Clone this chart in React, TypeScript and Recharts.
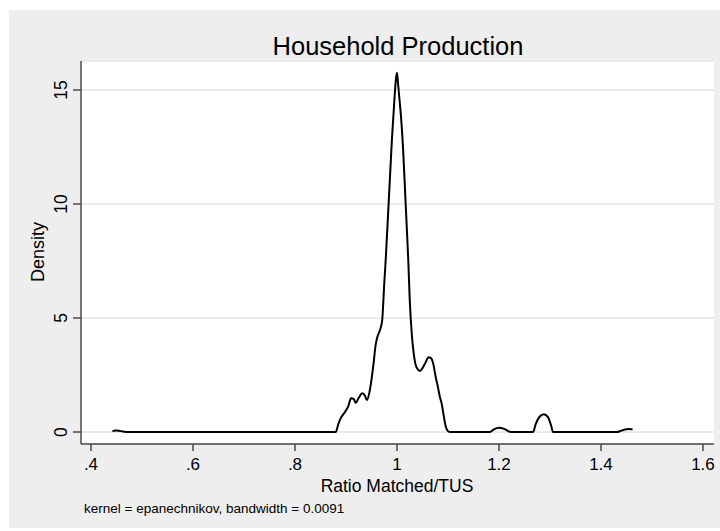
import React from 'react';
import { CartesianGrid, Line, LineChart, XAxis, YAxis } from 'recharts';

// kernel density estimate, ratio on x, density on y
const ratio = [
  0.442, 0.448, 0.455, 0.462, 0.469, 0.6, 0.75, 0.88, 0.885, 0.89, 0.898, 0.904, 0.91, 0.915, 0.919, 0.925,
  0.932, 0.937, 0.941, 0.946, 0.95, 0.954, 0.958, 0.962, 0.967, 0.971, 0.975, 0.978, 0.984, 0.99, 0.995, 0.998,
  1.0, 1.002, 1.004, 1.008, 1.012, 1.017, 1.022, 1.025, 1.029, 1.032, 1.036, 1.04, 1.045, 1.05, 1.056, 1.062,
  1.066, 1.071, 1.076, 1.08, 1.084, 1.088, 1.091, 1.095, 1.099, 1.104, 1.15, 1.182, 1.19, 1.2, 1.21, 1.22,
  1.222, 1.267, 1.272, 1.28, 1.288, 1.296, 1.302, 1.306, 1.431, 1.44, 1.45, 1.456, 1.462,
];
const density = [
  0.04, 0.07, 0.06, 0.02, 0, 0, 0, 0, 0.35, 0.62, 0.88, 1.1, 1.48, 1.45, 1.28, 1.5,
  1.7, 1.6, 1.4, 1.75, 2.3, 3.0, 3.8, 4.2, 4.5, 4.9, 6.5, 7.6, 10.2, 12.8, 14.6, 15.5,
  15.76, 15.3, 14.8, 13.8, 12.4, 10.0, 7.6, 5.8, 4.3, 3.6, 3.0, 2.77, 2.68, 2.8, 3.05, 3.28,
  3.25, 3.0, 2.4, 2.0, 1.55, 1.2, 0.8, 0.3, 0.06, 0, 0, 0, 0.12, 0.19, 0.14, 0.02,
  0, 0, 0.35, 0.68, 0.78, 0.65, 0.3, 0, 0, 0.06, 0.12, 0.13, 0.11,
];

const xTicks = [0.4, 0.6, 0.8, 1, 1.2, 1.4, 1.6];
const xTickLabels = ['.4', '.6', '.8', '1', '1.2', '1.4', '1.6'];
const yTicks = [0, 5, 10, 15];

const data = ratio.map((x, i) => ({ x, y: density[i] }));

const FONT = '"Liberation Sans", Arial, Helvetica, sans-serif';
const AXIS = '#4a4a4a';

const XTick = (props: any) => {
  const { x, payload } = props;
  const idx = xTicks.indexOf(payload.value);
  return (
    <text x={x} y={470} textAnchor="middle" fontFamily={FONT} fontSize={17} fill="#000">
      {idx >= 0 ? xTickLabels[idx] : payload.value}
    </text>
  );
};

const YTick = (props: any) => {
  const { y, payload } = props;
  return (
    <text
      x={67}
      y={y}
      transform={`rotate(-90, 67, ${y})`}
      textAnchor="middle"
      fontFamily={FONT}
      fontSize={17.5}
      fill="#000"
    >
      {payload.value}
    </text>
  );
};

export default function App() {
  return (
    <div style={{ position: 'fixed', left: 0, top: 0, width: 720, height: 531, background: '#fff' }}>
      <div style={{ position: 'absolute', left: 9, top: 10, width: 711, height: 518, background: '#eeeeee' }} />
      <div style={{ position: 'absolute', left: 0, top: 0 }}>
        <LineChart width={720} height={531} data={data} margin={{ top: 61, right: 6, bottom: 0, left: 0 }}>
          <CartesianGrid fill="#fff" vertical={false} stroke="#e4e4e4" strokeWidth={1.5} />
          <XAxis
            dataKey="x"
            type="number"
            domain={[0.3804, 1.6216]}
            ticks={xTicks}
            allowDataOverflow
            height={87}
            tickSize={7}
            axisLine={{ stroke: AXIS, strokeWidth: 1.5 }}
            tickLine={{ stroke: AXIS, strokeWidth: 1.5 }}
            tick={<XTick />}
          />
          <YAxis
            type="number"
            domain={[-0.526, 16.27]}
            ticks={yTicks}
            allowDataOverflow
            width={81}
            tickSize={8}
            axisLine={{ stroke: AXIS, strokeWidth: 1.5 }}
            tickLine={{ stroke: AXIS, strokeWidth: 1.5 }}
            tick={<YTick />}
          />
          <Line
            type="monotone"
            dataKey="y"
            stroke="#000"
            strokeWidth={2}
            dot={false}
            isAnimationActive={false}
          />
        </LineChart>
      </div>
      <svg width={720} height={531} style={{ position: 'absolute', left: 0, top: 0, pointerEvents: 'none' }}>
        <text x={398} y={55} textAnchor="middle" fontFamily={FONT} fontSize={25.5} fill="#000">
          Household Production
        </text>
        <text x={397} y={492} textAnchor="middle" fontFamily={FONT} fontSize={17.5} fill="#000">
          Ratio Matched/TUS
        </text>
        <text
          x={44}
          y={252}
          transform="rotate(-90, 44, 252)"
          textAnchor="middle"
          fontFamily={FONT}
          fontSize={18}
          fill="#000"
        >
          Density
        </text>
        <text x={84} y={513} fontFamily={FONT} fontSize={13.5} fill="#000">
          kernel = epanechnikov, bandwidth = 0.0091
        </text>
      </svg>
    </div>
  );
}
